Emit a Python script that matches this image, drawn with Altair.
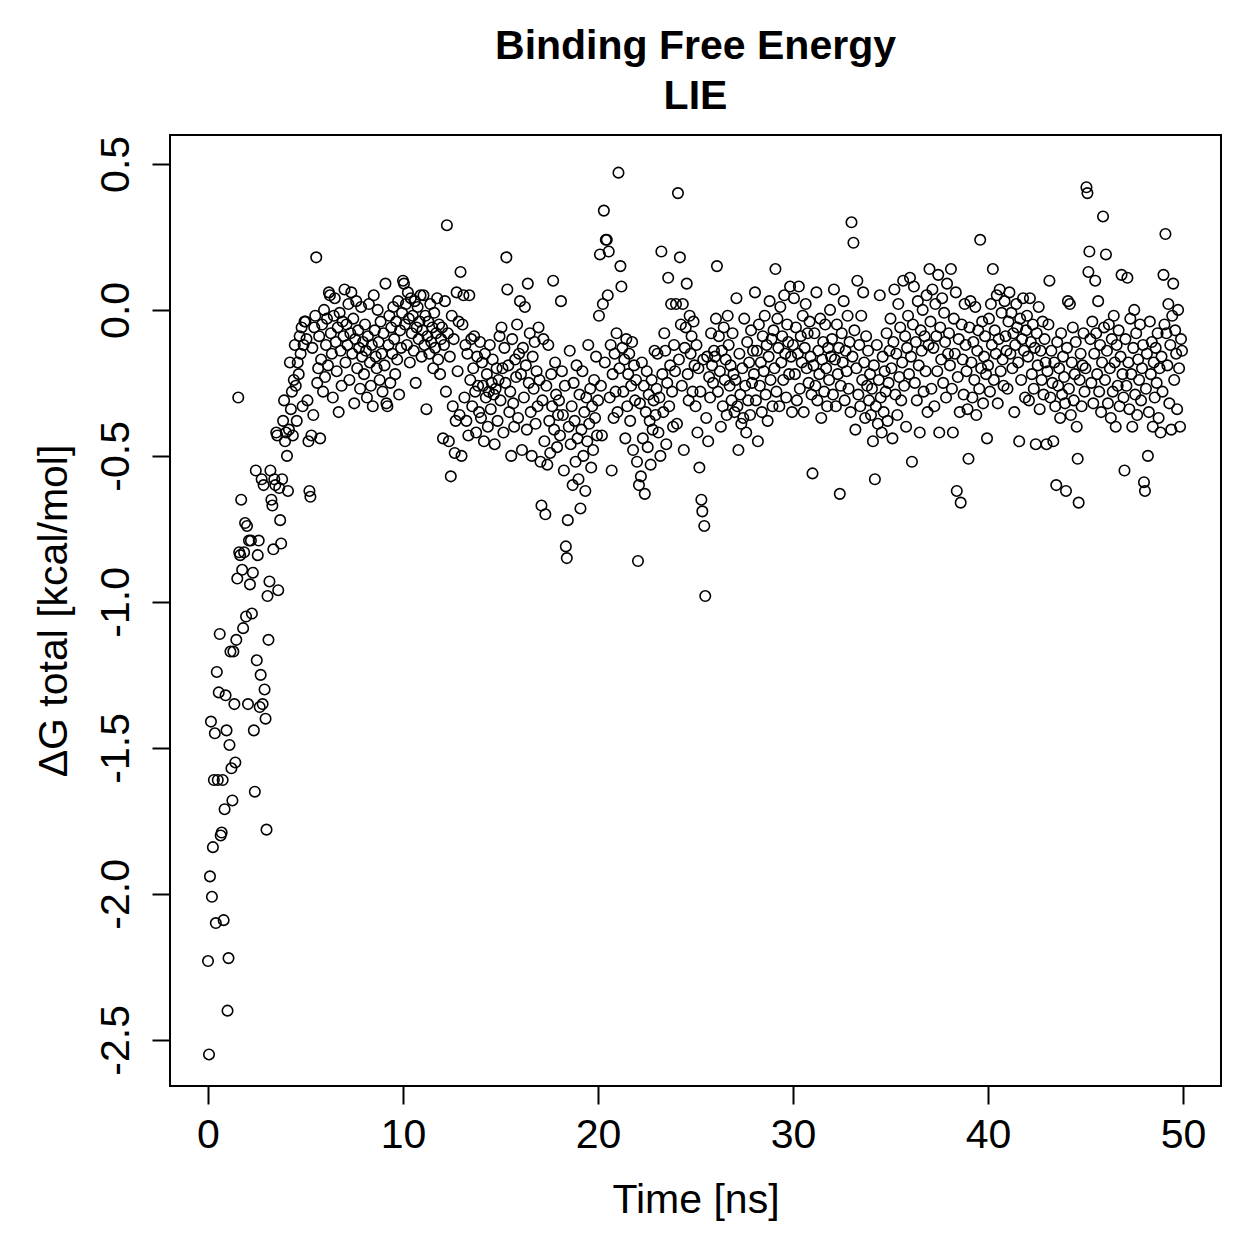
import altair as alt
import pandas as pd

# Sampling interval of the trajectory (ns)
t_step = 0.05

# Delta G total [kcal/mol], 20 frames per ns
dg_00_05 = [
    -2.23, -2.55, -1.94, -1.41, -2.01, -1.84, -1.61, -1.45, -2.10, -1.24, -1.61, -1.31, -1.11, -1.80, -1.79, -1.61, -2.09, -1.71, -1.32, -1.44,
    -2.40, -2.22, -1.49, -1.17, -1.57, -1.68, -1.17, -1.35, -1.55, -1.13, -0.92, -0.30, -0.83, -0.84, -0.65, -0.89, -1.09, -0.83, -0.73, -1.05,
    -0.74, -1.35, -0.79, -0.94, -0.79, -1.04, -0.90, -1.44, -1.65, -0.55, -1.20, -0.84, -0.79, -1.36, -1.25, -0.58, -1.35, -0.60, -1.30, -1.40,
    -1.78, -0.98, -1.13, -0.93, -0.55, -0.65, -0.67, -0.82, -0.58, -0.60, -0.42, -0.43, -0.96, -0.61, -0.72, -0.80, -0.58, -0.38, -0.31, -0.45,
    -0.42, -0.50, -0.62, -0.41, -0.18, -0.34, -0.28, -0.43, -0.24, -0.12, -0.26, -0.38, -0.18, -0.22, -0.09, -0.15, -0.06, -0.33, -0.12, -0.04,
]
dg_05_10 = [
    -0.04, -0.10, -0.31, -0.45, -0.62, -0.64, -0.43, -0.13, -0.36, -0.06, -0.02, 0.18, -0.25, -0.20, -0.09, -0.44, -0.17, -0.05, -0.28, 0.00,
    -0.23, -0.12, -0.03, -0.19, 0.06, 0.05, -0.08, -0.15, -0.30, -0.02, 0.04, -0.11, -0.21, -0.06, -0.35, -0.01, -0.14, -0.26, -0.04, -0.09,
    0.07, -0.18, -0.05, -0.12, 0.02, -0.24, -0.08, 0.06, -0.15, -0.03, -0.32, -0.10, 0.03, -0.20, -0.07, -0.13, -0.27, 0.01, -0.16, -0.11,
    -0.22, -0.05, -0.14, -0.30, -0.09, 0.02, -0.18, -0.26, -0.12, -0.33, 0.05, -0.07, -0.16, -0.20, 0.00, -0.11, -0.24, -0.04, -0.15, -0.28,
    -0.08, -0.19, 0.09, -0.32, -0.33, -0.12, -0.02, -0.25, -0.06, -0.15, 0.01, -0.10, -0.22, -0.04, -0.17, 0.03, -0.29, -0.07, -0.13, -0.01,
]
dg_10_15 = [
    0.10, 0.09, -0.05, 0.02, -0.12, 0.06, -0.03, -0.18, 0.04, -0.08, -0.02, -0.14, 0.03, -0.25, -0.06, 0.01, -0.10, -0.04, 0.05, -0.16,
    -0.07, 0.05, -0.12, -0.02, -0.34, -0.09, -0.04, -0.15, 0.02, -0.11, -0.06, -0.20, -0.01, -0.13, -0.08, 0.04, -0.17, -0.05, -0.22, -0.10,
    -0.06, -0.44, -0.12, 0.03, -0.28, 0.29, -0.08, -0.45, -0.16, -0.57, -0.02, -0.33, -0.10, -0.49, -0.38, 0.06, -0.21, -0.04, -0.36, 0.13,
    -0.50, -0.05, 0.05, -0.30, -0.12, -0.38, -0.15, -0.43, 0.05, -0.24, -0.10, -0.33, -0.20, -0.09, -0.28, -0.42, -0.16, -0.26, -0.35, -0.11,
    -0.37, -0.18, -0.26, -0.45, -0.15, -0.30, -0.22, -0.40, -0.28, -0.12, -0.34, -0.25, -0.17, -0.29, -0.46, -0.27, -0.20, -0.38, -0.24, -0.09,
]
dg_15_20 = [
    -0.31, -0.06, -0.20, -0.42, -0.13, -0.25, 0.18, 0.07, -0.19, -0.35, -0.28, -0.50, -0.10, -0.32, -0.40, -0.17, -0.23, -0.05, -0.37, -0.15,
    0.03, -0.22, -0.48, -0.13, -0.30, 0.01, -0.19, -0.41, 0.09, -0.25, -0.08, -0.35, -0.50, -0.16, -0.27, -0.11, -0.39, -0.21, -0.33, -0.06,
    -0.24, -0.52, -0.67, -0.31, -0.10, -0.45, -0.70, -0.26, -0.53, -0.12, -0.38, -0.49, -0.22, -0.33, 0.10, -0.41, -0.18, -0.29, -0.47, -0.36,
    -0.31, -0.43, 0.03, -0.21, -0.36, -0.55, -0.26, -0.81, -0.85, -0.72, -0.40, -0.14, -0.46, -0.33, -0.60, -0.25, -0.38, -0.52, -0.19, -0.44,
    -0.58, -0.29, -0.68, -0.41, -0.21, -0.50, -0.35, -0.62, -0.30, -0.45, -0.12, -0.39, -0.27, -0.54, -0.33, -0.48, -0.24, -0.37, -0.16, -0.43,
]
dg_20_25 = [
    -0.31, -0.02, 0.19, -0.26, -0.43, 0.02, 0.34, -0.18, 0.24, 0.24, 0.05, 0.20, -0.30, -0.12, -0.55, -0.22, -0.37, -0.15, -0.28, -0.08,
    -0.35, 0.47, -0.20, 0.15, 0.08, -0.13, -0.28, -0.17, -0.44, -0.10, -0.33, -0.22, -0.15, -0.38, -0.26, -0.11, -0.48, -0.19, -0.31, -0.24,
    -0.52, -0.86, -0.60, -0.32, -0.57, -0.18, -0.44, -0.26, -0.63, -0.35, -0.21, -0.47, -0.29, -0.38, -0.53, -0.24, -0.41, -0.31, -0.14, -0.36,
    -0.27, -0.15, -0.42, -0.30, -0.50, 0.20, -0.22, -0.35, -0.08, -0.14, -0.46, -0.25, 0.11, -0.33, -0.19, 0.02, -0.28, -0.40, -0.12, -0.21,
    0.02, -0.39, 0.40, -0.17, 0.18, -0.05, -0.26, 0.02, -0.48, -0.13, -0.06, 0.09, -0.22, -0.31, -0.02, -0.15, -0.09, -0.28, -0.04, -0.19,
]
dg_25_30 = [
    -0.33, -0.12, -0.42, -0.20, -0.54, -0.28, -0.65, -0.69, -0.17, -0.74, -0.98, -0.37, -0.16, -0.45, -0.23, -0.30, -0.08, -0.19, -0.25, -0.14,
    -0.16, -0.03, 0.15, -0.28, -0.09, -0.21, -0.40, -0.14, -0.33, -0.06, -0.24, -0.17, -0.36, -0.02, -0.12, -0.26, -0.19, -0.31, -0.08, -0.22,
    -0.35, -0.24, 0.04, -0.33, -0.48, -0.15, -0.29, -0.39, -0.20, -0.37, -0.03, -0.26, -0.42, -0.11, -0.31, -0.18, -0.36, -0.07, -0.25, -0.14,
    -0.22, 0.06, -0.31, -0.14, -0.45, -0.05, -0.26, -0.18, -0.35, -0.09, -0.21, -0.02, -0.29, -0.12, -0.38, -0.16, 0.03, -0.24, -0.10, -0.33,
    -0.07, -0.20, 0.14, -0.28, -0.03, -0.13, -0.33, 0.01, -0.18, -0.09, -0.24, 0.05, -0.15, -0.30, -0.05, -0.11, -0.22, 0.08, -0.16, -0.35,
]
dg_30_35 = [
    -0.12, 0.04, -0.22, -0.06, -0.31, -0.15, 0.08, -0.27, -0.09, -0.18, -0.02, -0.35, -0.13, 0.02, -0.20, -0.08, -0.25, -0.04, -0.16, -0.29,
    -0.56, -0.19, -0.08, -0.26, 0.06, -0.31, -0.14, -0.22, -0.03, -0.37, -0.17, -0.11, -0.28, -0.05, -0.20, -0.33, -0.13, -0.24, 0.00, -0.16,
    -0.10, -0.29, 0.07, -0.17, -0.33, -0.05, -0.22, -0.13, -0.63, -0.26, -0.08, -0.18, 0.03, -0.31, -0.14, -0.21, -0.02, -0.27, -0.11, -0.35,
    0.30, -0.16, 0.23, -0.07, -0.41, -0.20, 0.10, -0.29, -0.12, -0.33, -0.02, -0.24, 0.06, -0.18, -0.37, -0.09, -0.26, -0.14, -0.31, -0.22,
    -0.36, -0.27, -0.45, -0.19, -0.58, -0.33, -0.12, -0.39, -0.24, 0.05, -0.30, -0.42, -0.16, -0.35, -0.21, -0.28, -0.08, -0.38, -0.25, -0.14,
]
dg_35_40 = [
    -0.03, -0.20, -0.44, -0.11, 0.07, -0.29, -0.15, -0.36, 0.02, -0.23, -0.06, -0.31, -0.18, 0.10, -0.26, -0.09, -0.40, -0.13, -0.02, -0.22,
    0.11, -0.16, -0.52, -0.05, 0.08, -0.25, -0.11, -0.31, 0.03, -0.19, -0.42, -0.07, -0.14, 0.00, -0.28, -0.09, -0.21, 0.05, -0.35, -0.12,
    0.14, -0.04, -0.27, 0.07, -0.13, -0.33, 0.02, -0.09, -0.21, 0.12, -0.42, -0.06, -0.17, 0.04, -0.25, -0.01, -0.11, -0.30, 0.09, -0.15,
    -0.08, -0.19, 0.14, -0.27, -0.42, -0.03, -0.15, 0.06, -0.62, -0.23, -0.10, -0.35, -0.66, -0.05, -0.17, -0.29, 0.02, -0.12, -0.21, -0.34,
    -0.51, -0.06, 0.03, -0.18, -0.30, -0.11, -0.24, 0.01, -0.36, -0.14, -0.07, -0.27, 0.24, -0.20, -0.04, -0.32, -0.16, -0.09, -0.22, -0.44,
]
dg_40_45 = [
    -0.19, -0.03, -0.28, 0.02, -0.12, 0.14, -0.24, -0.07, -0.15, 0.05, -0.32, -0.10, 0.07, -0.21, -0.01, -0.17, -0.26, 0.03, -0.09, -0.14,
    -0.27, -0.04, 0.06, -0.15, -0.01, -0.20, -0.08, -0.35, -0.12, 0.02, -0.06, -0.18, -0.45, -0.03, -0.24, -0.10, 0.04, -0.14, -0.30, -0.07,
    -0.02, -0.16, -0.31, 0.04, -0.11, -0.22, -0.05, -0.27, -0.13, -0.46, -0.08, -0.19, 0.01, -0.34, -0.14, -0.24, -0.04, -0.29, -0.10, -0.18,
    -0.46, -0.21, -0.05, 0.10, -0.30, -0.14, -0.25, -0.45, -0.18, -0.33, -0.60, -0.11, -0.26, -0.20, -0.37, -0.08, -0.29, -0.16, -0.23, -0.32,
    -0.62, -0.13, 0.03, -0.27, 0.02, -0.36, -0.18, -0.06, -0.31, -0.22, -0.11, -0.40, -0.51, -0.66, -0.24, -0.15, -0.33, -0.19, -0.08, -0.28,
]
dg_45_50 = [
    -0.20, 0.42, 0.40, 0.13, 0.20, -0.10, -0.25, -0.04, -0.32, -0.15, 0.10, -0.08, -0.22, 0.03, -0.28, -0.12, -0.35, -0.18, 0.32, -0.06,
    -0.24, 0.19, -0.14, -0.32, -0.05, -0.20, -0.37, -0.10, -0.28, -0.02, -0.18, -0.40, -0.12, -0.26, -0.07, -0.33, -0.16, 0.12, -0.22, -0.30,
    -0.55, -0.10, -0.26, 0.11, -0.18, -0.34, -0.03, -0.22, -0.40, -0.13, 0.00, -0.29, -0.08, -0.36, -0.17, -0.24, -0.05, -0.31, -0.20, -0.12,
    -0.59, -0.62, -0.27, -0.15, -0.50, -0.35, -0.04, -0.22, -0.11, -0.40, -0.18, -0.30, -0.13, -0.25, -0.08, -0.37, -0.20, -0.42, -0.16, -0.28,
    0.12, -0.05, 0.26, -0.08, -0.19, 0.02, -0.32, -0.12, -0.41, -0.02, 0.09, -0.24, -0.07, -0.15, -0.34, 0.00, -0.20, -0.40, -0.10, -0.14,
]

x_ticks = [0, 10, 20, 30, 40, 50]
y_ticks = [-2.5, -2.0, -1.5, -1.0, -0.5, 0.0, 0.5]

dg = (dg_00_05 + dg_05_10 + dg_10_15 + dg_15_20 + dg_20_25
      + dg_25_30 + dg_30_35 + dg_35_40 + dg_40_45 + dg_45_50)
time = [round(i * t_step, 3) for i in range(len(dg))]
df = pd.DataFrame({"time": time, "dg": dg})

FONT = "Liberation Sans"
FS = 41

chart = (
    alt.Chart(df)
    .mark_point(shape="circle", filled=False, color="black", strokeWidth=1.6, size=110, opacity=1)
    .encode(
        x=alt.X(
            "time:Q",
            scale=alt.Scale(domain=[-1.95, 51.95], nice=False, zero=False),
            axis=alt.Axis(
                values=x_ticks,
                title="Time [ns]",
                format="d",
                grid=False,
                domain=False,
                tickSize=18,
                tickWidth=2,
                tickColor="black",
                labelFont=FONT,
                labelFontSize=FS,
                labelColor="black",
                labelPadding=11,
                labelFlush=False,
                labelOverlap=False,
                titleFont=FONT,
                titleFontSize=FS,
                titleFontWeight="normal",
                titleColor="black",
                titlePadding=25,
            ),
        ),
        y=alt.Y(
            "dg:Q",
            scale=alt.Scale(domain=[-2.658, 0.599], nice=False, zero=False),
            axis=alt.Axis(
                values=y_ticks,
                title="ΔG total [kcal/mol]",
                labelExpr="datum.value < 0 ? '-' + format(-datum.value, '.1f') : format(datum.value, '.1f')",
                grid=False,
                domain=False,
                tickSize=18,
                tickWidth=2,
                tickColor="black",
                labelAngle=270,
                labelAlign="center",
                labelBaseline="alphabetic",
                labelFont=FONT,
                labelFontSize=FS,
                labelColor="black",
                labelPadding=24,
                labelFlush=False,
                labelOverlap=False,
                titleFont=FONT,
                titleFontSize=FS,
                titleFontWeight="normal",
                titleColor="black",
                titlePadding=20,
            ),
        ),
    )
    .properties(
        width=1051,
        height=951,
        autosize="none",
        padding={"left": 170, "top": 135, "right": 38, "bottom": 173},
        title=alt.Title(
            ["Binding Free Energy", "LIE"],
            font=FONT,
            fontSize=FS,
            fontWeight="bold",
            color="black",
            anchor="middle",
            lineHeight=50,
            offset=17,
        ),
    )
    .configure_view(stroke="black", strokeWidth=2)
)

chart.save("out.html", embed_options={"renderer": "svg", "actions": False})
